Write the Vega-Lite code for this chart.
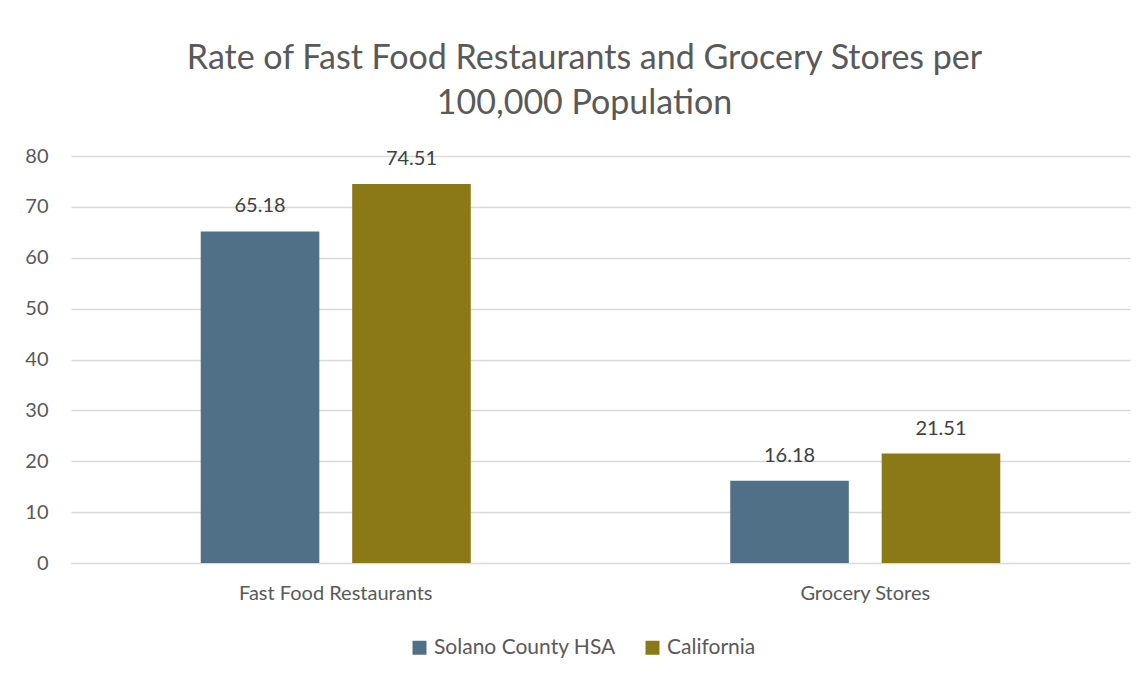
{
  "$schema": "https://vega.github.io/schema/vega-lite/v6.json",
  "autosize": "none",
  "width": 1059,
  "height": 407,
  "padding": {"left": 71, "top": 156, "right": 18, "bottom": 116},
  "background": "white",
  "title": {
    "text": ["Rate of Fast Food Restaurants and Grocery Stores per", "100,000 Population"],
    "anchor": "middle",
    "dx": -16,
    "offset": 25,
    "font": "Lato",
    "fontSize": 34,
    "fontWeight": "normal",
    "color": "#595959",
    "lineHeight": 45
  },
  "data": {
    "values": [
      {"category": "Fast Food Restaurants", "region": "Solano County HSA", "rate": 65.18},
      {"category": "Fast Food Restaurants", "region": "California", "rate": 74.51},
      {"category": "Grocery Stores", "region": "Solano County HSA", "rate": 16.18},
      {"category": "Grocery Stores", "region": "California", "rate": 21.51}
    ]
  },
  "encoding": {
    "x": {
      "field": "category",
      "type": "nominal",
      "sort": null,
      "scale": {"paddingInner": 0.49, "paddingOuter": 0.245},
      "axis": {
        "title": null,
        "labelAngle": 0,
        "labelFont": "Lato",
        "labelFontSize": 20,
        "labelColor": "#595959",
        "labelLimit": 0,
        "ticks": false,
        "domain": true,
        "domainColor": "#d9d9d9",
        "labelPadding": 20
      }
    },
    "xOffset": {
      "field": "region",
      "type": "nominal",
      "sort": ["Solano County HSA", "California"],
      "scale": {"paddingInner": 0.217, "paddingOuter": 0}
    },
    "y": {
      "field": "rate",
      "type": "quantitative",
      "scale": {"domain": [0, 80], "nice": false},
      "axis": {
        "title": null,
        "values": [0, 10, 20, 30, 40, 50, 60, 70, 80],
        "labelFont": "Lato",
        "labelFontSize": 20,
        "labelColor": "#595959",
        "ticks": false,
        "domain": false,
        "grid": true,
        "gridColor": "#d9d9d9",
        "gridWidth": 1.3,
        "labelPadding": 23
      }
    }
  },
  "layer": [
    {
      "mark": {"type": "bar"},
      "encoding": {
        "color": {
          "field": "region",
          "type": "nominal",
          "sort": ["Solano County HSA", "California"],
          "scale": {"domain": ["Solano County HSA", "California"], "range": ["#4F7087", "#8B7816"]},
          "legend": {
            "title": null,
            "orient": "none",
            "direction": "horizontal",
            "legendX": 338,
            "legendY": 481,
            "symbolType": "square",
            "symbolSize": 196,
            "symbolStrokeWidth": 0,
            "labelFont": "Lato",
            "labelFontSize": 21,
            "labelColor": "#595959",
            "labelLimit": 0,
            "columnPadding": 26,
            "labelOffset": 4
          }
        }
      }
    },
    {
      "mark": {"type": "text", "dy": -25, "font": "Lato", "fontSize": 20, "color": "#404040"},
      "encoding": {
        "text": {"field": "rate", "type": "quantitative", "format": ".2f"}
      }
    }
  ],
  "config": {"view": {"stroke": null}}
}
